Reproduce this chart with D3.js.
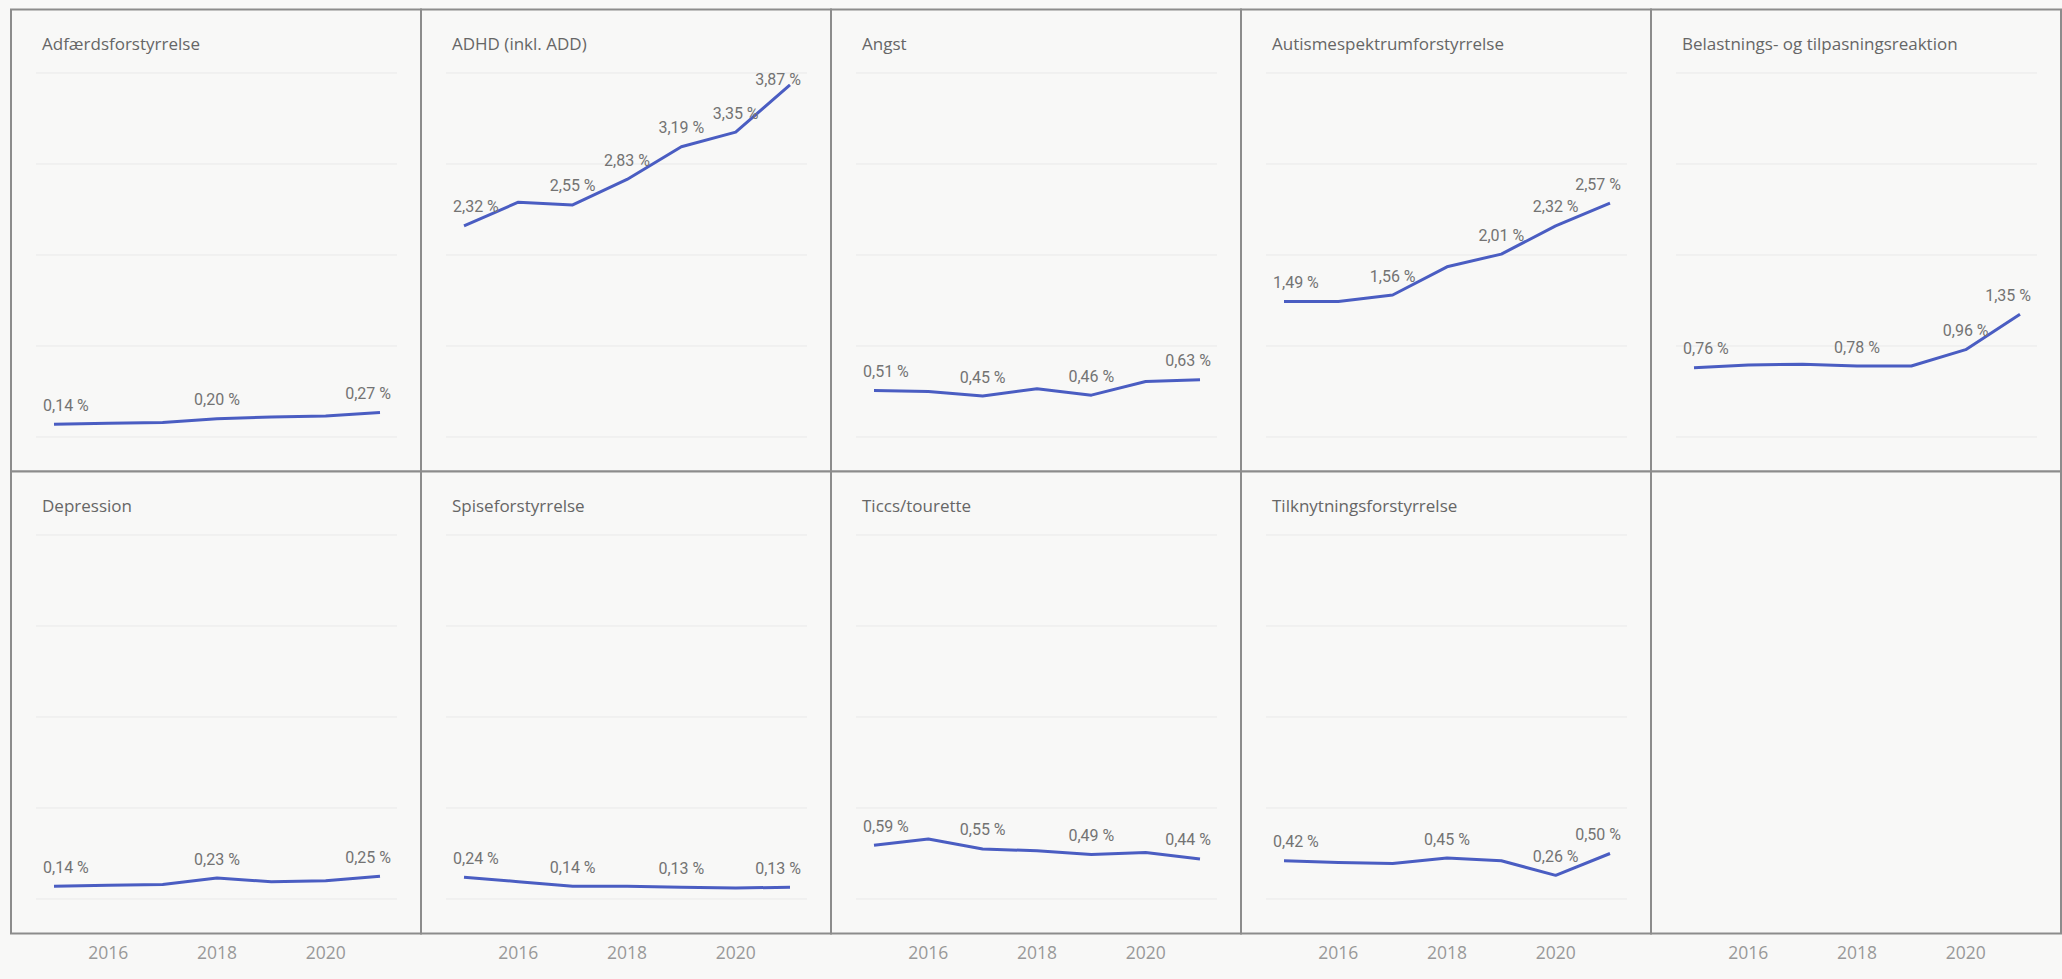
<!DOCTYPE html>
<html>
<head>
<meta charset="utf-8">
<script src="https://cdn.jsdelivr.net/npm/d3@7"></script>
<style>
  html, body { margin: 0; padding: 0; background: #f8f8f7; }
  svg { display: block; }
</style>
</head>
<body>
<svg id="chart"></svg>
<script>
// ----------------------------------------- Data -----------------------------------------

var years = [2015, 2016, 2017, 2018, 2019, 2020, 2021];
var xTicks = [2016, 2018, 2020];
var yTicks = [0, 1, 2, 3, 4];

var titles = [
  'Adfærdsforstyrrelse',
  'ADHD (inkl. ADD)',
  'Angst',
  'Autismespektrumforstyrrelse',
  'Belastnings- og tilpasningsreaktion',
  'Depression',
  'Spiseforstyrrelse',
  'Ticcs/tourette',
  'Tilknytningsforstyrrelse'
];

var adfaerd     = [0.14, 0.15, 0.16, 0.20, 0.22, 0.23, 0.27];
var adhd        = [2.32, 2.58, 2.55, 2.83, 3.19, 3.35, 3.87];
var angst       = [0.51, 0.50, 0.45, 0.53, 0.46, 0.61, 0.63];
var autisme     = [1.49, 1.49, 1.56, 1.87, 2.01, 2.32, 2.57];
var belastning  = [0.76, 0.79, 0.80, 0.78, 0.78, 0.96, 1.35];
var depression  = [0.14, 0.15, 0.16, 0.23, 0.19, 0.20, 0.25];
var spise       = [0.24, 0.19, 0.14, 0.14, 0.13, 0.12, 0.13];
var ticcs       = [0.59, 0.66, 0.55, 0.53, 0.49, 0.51, 0.44];
var tilknytning = [0.42, 0.40, 0.39, 0.45, 0.42, 0.26, 0.50];

var series = [adfaerd, adhd, angst, autisme, belastning, depression, spise, ticcs, tilknytning];

// years that carry a data label in each panel
var labelYears = [
  [2015, 2018, 2021],
  [2015, 2017, 2018, 2019, 2020, 2021],
  [2015, 2017, 2019, 2021],
  [2015, 2017, 2019, 2020, 2021],
  [2015, 2018, 2020, 2021],
  [2015, 2018, 2021],
  [2015, 2017, 2019, 2021],
  [2015, 2017, 2019, 2021],
  [2015, 2018, 2020, 2021]
];

// ----------------------------------------- Layout -----------------------------------------

var width = 2062;
var height = 979;
var cols = 5;
var rows = 2;
var gridLeft = 11;
var gridTop = 9.5;
var panelW = 410;
var panelH = 462;

var lineColor = '#4a5dc2';

var svg = d3.select('#chart')
            .attr('width', width)
            .attr('height', height);

var xScale = d3.scaleLinear()
               .domain([2015, 2021])
               .range([43, 369]);

var yScale = d3.scaleLinear()
               .domain([0, 4])
               .range([427.5, 63.5]);

var fmt = d3.format('.2f');
function pct(v) { return fmt(v).replace('.', ',') + ' %'; }

var line = d3.line()
             .x((d, i) => xScale(years[i]))
             .y(d => yScale(d));

// ----------------------------------------- Panels -----------------------------------------

for (var p = 0; p < cols * rows; p++) {
  var col = p % cols;
  var row = Math.floor(p / cols);
  var g = svg.append('g')
             .attr('transform', `translate(${gridLeft + col * panelW}, ${gridTop + row * panelH})`);

  g.append('rect')
    .attr('width', panelW)
    .attr('height', panelH)
    .attr('fill', '#f8f8f7')
    .attr('stroke', '#8c8c8c')
    .attr('stroke-width', 2);

  if (p >= series.length) continue;

  // gridlines
  g.selectAll('.grid')
    .data(yTicks)
    .enter()
    .append('line')
      .attr('x1', 25)
      .attr('x2', 386)
      .attr('y1', d => yScale(d))
      .attr('y2', d => yScale(d))
      .attr('stroke', '#e9e9e9')
      .attr('stroke-width', 1);

  // title
  g.append('text')
    .text(titles[p])
    .attr('x', 31)
    .attr('y', 40.5)
    .attr('font-family', '"Open Sans", sans-serif')
    .attr('font-size', '17px')
    .attr('fill', '#666');

  // line
  g.append('path')
    .datum(series[p])
    .attr('d', line)
    .attr('fill', 'none')
    .attr('stroke', lineColor)
    .attr('stroke-width', 3)
    .attr('stroke-linejoin', 'round');

  // labels
  var vals = series[p];
  var labelData = labelYears[p].map(yr => ({ year: yr, value: vals[years.indexOf(yr)] }));

  g.selectAll('.lbl')
    .data(labelData)
    .enter()
    .append('text')
      .attr('class', 'lbl')
      .text(d => pct(d.value))
      .attr('font-family', 'Roboto, sans-serif')
      .attr('font-size', '16px')
      .attr('fill', '#737373')
      .attr('text-anchor', 'middle')
      .attr('y', d => Math.max(yScale(d.value) - 13.5, yScale(4) + 11.5))
      .attr('x', function(d) {
        var w = this.getComputedTextLength();
        var cx = xScale(d.year);
        var lo = xScale(2015) - 11 + w / 2;
        var hi = xScale(2021) + 11 - w / 2;
        return Math.min(Math.max(cx, lo), hi);
      });
}

// ----------------------------------------- X axis labels -----------------------------------------

for (var c = 0; c < cols; c++) {
  svg.append('g')
    .attr('transform', `translate(${gridLeft + c * panelW}, 0)`)
    .selectAll('text')
    .data(xTicks)
    .enter()
    .append('text')
      .text(d => d)
      .attr('x', d => xScale(d))
      .attr('y', 959)
      .attr('text-anchor', 'middle')
      .attr('font-family', '"Open Sans", sans-serif')
      .attr('font-size', '17.5px')
      .attr('fill', '#999');
}
</script>
</body>
</html>
